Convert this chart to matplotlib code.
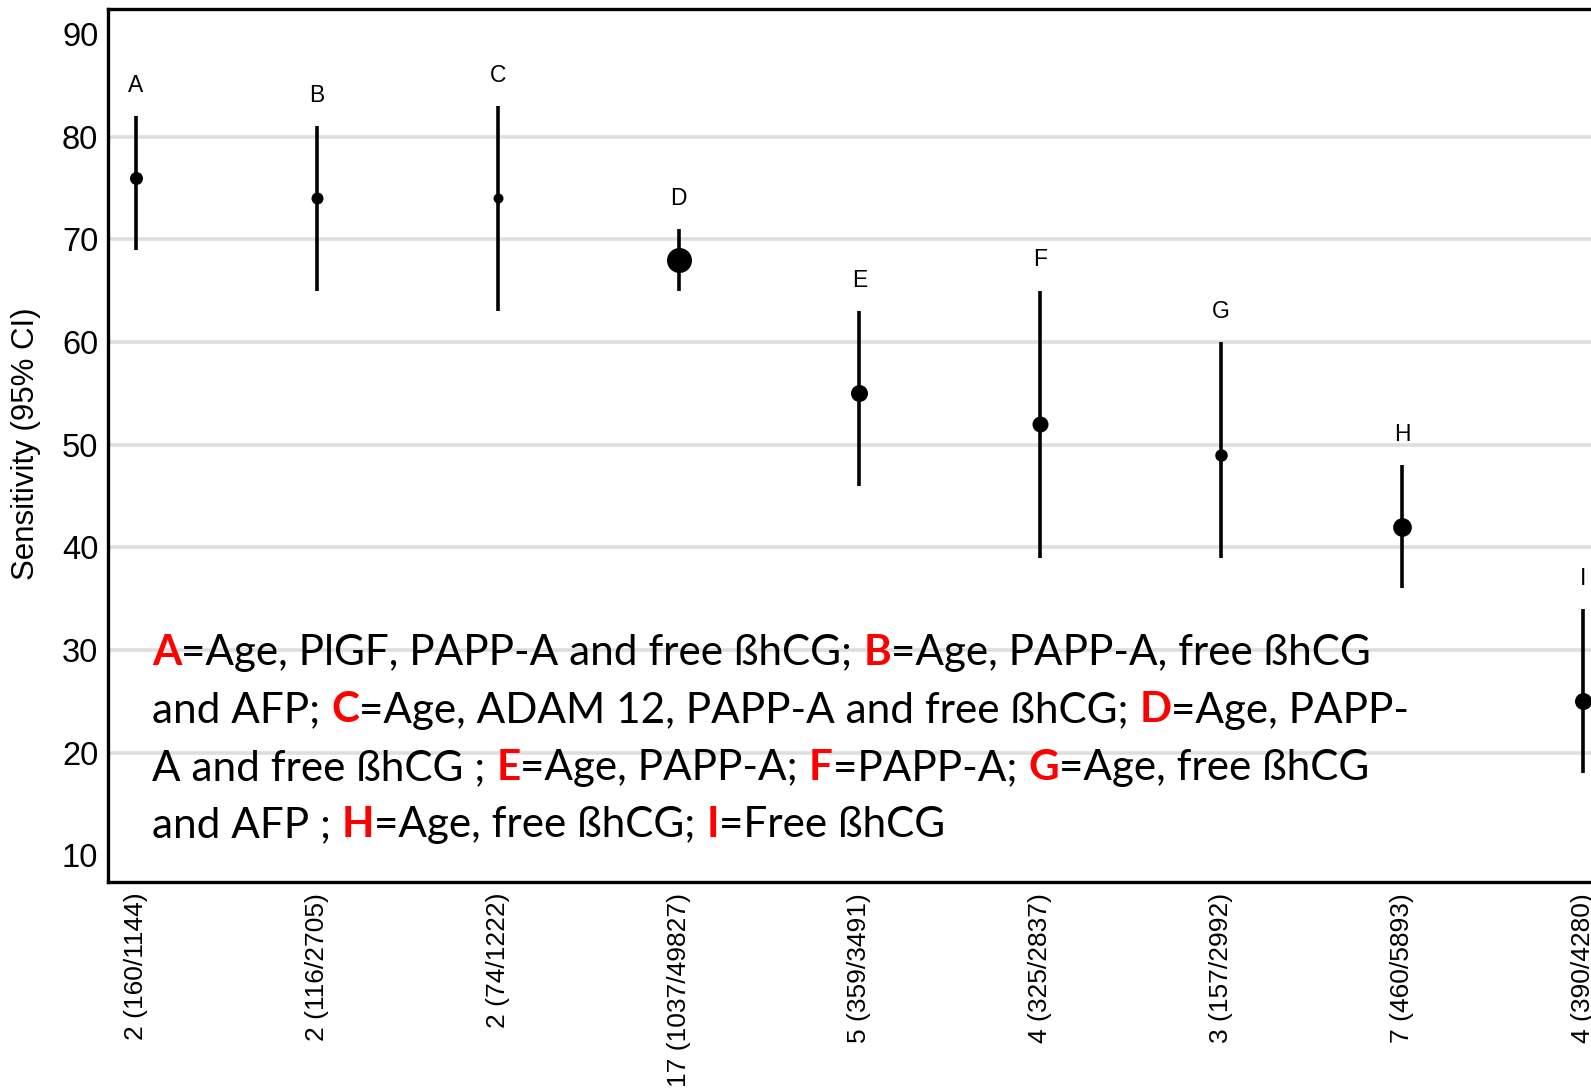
import matplotlib
matplotlib.use("Agg")
import matplotlib.pyplot as plt
from matplotlib.transforms import IdentityTransform

# ---------------- data ----------------
point_labels = ["A", "B", "C", "D", "E", "F", "G", "H", "I"]
x_labels = ["2 (160/1144)", "2 (116/2705)", "2 (74/1222)", "17 (1037/49827)",
            "5 (359/3491)", "4 (325/2837)", "3 (157/2992)", "7 (460/5893)",
            "4 (390/4280)"]
sensitivity = [76, 74, 74, 68, 55, 52, 49, 42, 25]
ci_lower = [69, 65, 63, 65, 46, 39, 39, 36, 18]
ci_upper = [82, 81, 83, 71, 63, 65, 60, 48, 34]
y_ticks = [10, 20, 30, 40, 50, 60, 70, 80, 90]
grid_values = [20, 30, 40, 50, 60, 70, 80]

legend_lines = [
    [("A", True), ("=Age, PlGF, PAPP-A and free ßhCG; ", False), ("B", True),
     ("=Age, PAPP-A, free ßhCG", False)],
    [("and AFP; ", False), ("C", True), ("=Age, ADAM 12, PAPP-A and free ßhCG; ", False),
     ("D", True), ("=Age, PAPP-", False)],
    [("A and free ßhCG ; ", False), ("E", True), ("=Age, PAPP-A; ", False), ("F", True),
     ("=PAPP-A; ", False), ("G", True), ("=Age, free ßhCG", False)],
    [("and AFP ; ", False), ("H", True), ("=Age, free ßhCG; ", False), ("I", True),
     ("=Free ßhCG", False)],
]

# ---------------- style ----------------
W, H = 1591, 1088
DPI = 100
marker_diam_px = [13, 12, 10, 25, 17, 16, 12.5, 18.7, 17]
ax_left_px, ax_top_px, ax_bottom_px = 108, 9, 881.7

fig = plt.figure(figsize=(W / DPI, H / DPI), dpi=DPI)
ax = fig.add_axes([ax_left_px / W, 1 - ax_bottom_px / H,
                   1 - ax_left_px / W, (ax_bottom_px - ax_top_px) / H])

xs = list(range(1, len(sensitivity) + 1))
for x, s, lo, hi, d, lab in zip(xs, sensitivity, ci_lower, ci_upper, marker_diam_px, point_labels):
    ax.plot([x, x], [lo, hi], color="black", lw=2.6, solid_capstyle="butt", zorder=3)
    ax.plot([x], [s], marker="o", color="black", ms=d * 0.72, mew=0, zorder=4)
    ax.text(x, hi + 3, lab, ha="center", va="center", fontsize=16.5,
            family="Liberation Sans", zorder=4)

for g in grid_values:
    ax.axhline(g, color="#dedede", lw=2.6, zorder=1)

ax.set_xlim(0.845, 9.045)
ax.set_ylim(7.43, 92.43)
ax.set_yticks(y_ticks)
ax.set_yticklabels([str(v) for v in y_ticks], family="Liberation Sans", fontsize=23.5)
ax.set_xticks(xs)
ax.set_xticklabels(x_labels, rotation=90, family="Liberation Sans", fontsize=19,
                   va="top", ha="center")
ax.tick_params(axis="both", length=0)
ax.tick_params(axis="y", pad=7)
ax.tick_params(axis="x", pad=8)
for side in ["left", "bottom", "top"]:
    ax.spines[side].set_linewidth(2.4)
    ax.spines[side].set_color("black")
ax.spines["right"].set_visible(False)
ax.set_ylabel("Sensitivity (95% CI)", family="Liberation Sans", fontsize=22.5)
ax.yaxis.set_label_coords((41 - ax_left_px) / (W - ax_left_px), 0.502)

# ---------------- multi-coloured annotation ----------------
renderer = fig.canvas.get_renderer()
FONT = "Lato"

def advance(s, bold, size):
    t1 = fig.text(0, 0, s + ".", fontsize=size, family=FONT,
                  fontweight="bold" if bold else "normal", transform=IdentityTransform())
    t2 = fig.text(0, 0, ".", fontsize=size, family=FONT,
                  fontweight="bold" if bold else "normal", transform=IdentityTransform())
    w = t1.get_window_extent(renderer).width - t2.get_window_extent(renderer).width
    t1.remove(); t2.remove()
    return w

base_size = 30
w1 = sum(advance(s, b, base_size) for s, b in legend_lines[0])
size = base_size * 1217 / w1

baselines = [665, 722.5, 780, 837]
x0 = 152
for line, yb in zip(legend_lines, baselines):
    x = x0
    for s, bold in line:
        fig.text(x, H - yb, s, fontsize=size, family=FONT,
                 fontweight="bold" if bold else "normal",
                 color="#ff0000" if bold else "black",
                 va="baseline", ha="left", transform=IdentityTransform(), zorder=5)
        x += advance(s, bold, size)

fig.savefig("out.png", dpi=DPI)
